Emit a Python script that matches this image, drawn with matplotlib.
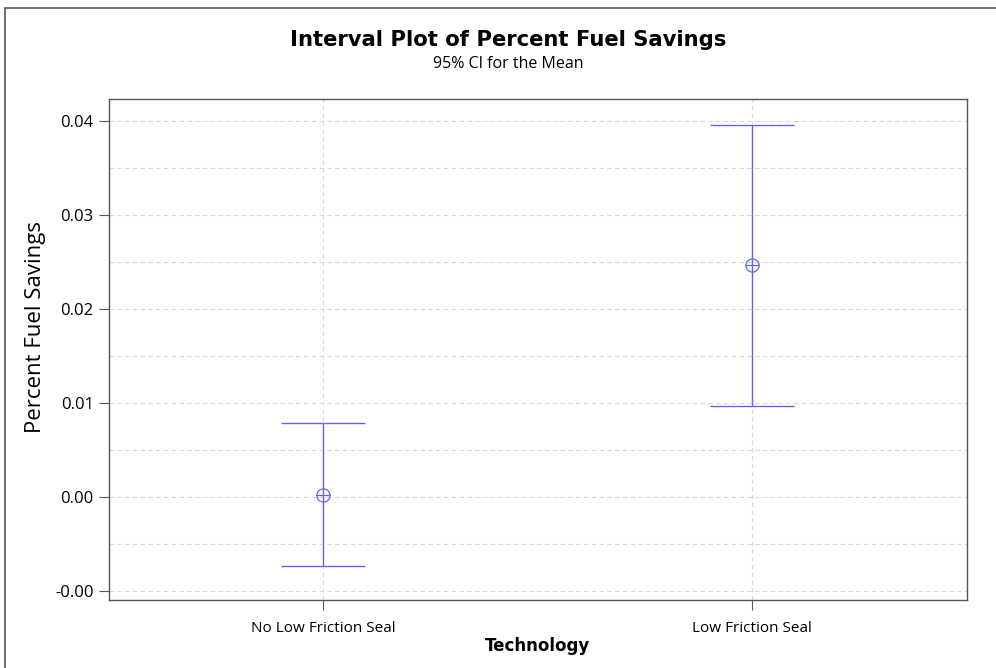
import matplotlib
matplotlib.use("Agg")
import matplotlib.pyplot as plt
from matplotlib.patches import Rectangle
import numpy as np

categories = ["No Low Friction Seal", "Low Friction Seal"]
means = [0.00018, 0.02465]
lower = [-0.00734, 0.00968]
upper = [0.00781, 0.03954]
ytick_vals = [-0.01, 0.0, 0.01, 0.02, 0.03, 0.04]
ytick_labels = ["-0.00", "0.00", "0.01", "0.02", "0.03", "0.04"]

blue = "#6464f0"
grid_c = "#d8d8d8"

fig = plt.figure(figsize=(9.96, 6.68), dpi=100)
fig.patches.append(Rectangle((5/996, -0.1), 1.2, 1 - 8/668 + 0.1, transform=fig.transFigure,
                             fill=False, edgecolor="#555555", linewidth=1.2))
W, H = 996, 668
ax = fig.add_axes([109/W, 1 - 600/H, (966.5-109)/W, (600-98.7)/H])

x = np.arange(len(categories))
m = np.array(means); lo = np.array(lower); hi = np.array(upper)
ax.errorbar(x, m, yerr=[m - lo, hi - m], fmt="none", ecolor=blue, elinewidth=1.0,
            capsize=30.5, capthick=1.0, zorder=3)
ax.plot(x, m, linestyle="none", marker="o", markersize=9.5, markerfacecolor="none",
        markeredgecolor=blue, markeredgewidth=0.9, zorder=4)
ax.plot(x, m, linestyle="none", marker="_", markersize=9.5, markeredgecolor=blue,
        markeredgewidth=0.9, zorder=4)

ax.set_xlim(-0.5, 1.5)
ax.set_ylim(-0.01099, 0.04234)
ax.set_yticks(ytick_vals)
ax.set_yticklabels(ytick_labels)
ax.set_yticks(np.arange(-0.005, 0.041, 0.01), minor=True)
ax.set_xticks(x)
ax.set_xticklabels(categories)
ax.tick_params(axis="y", which="minor", length=0)
ax.tick_params(axis="both", which="major", direction="out", length=7, color="#555555",
               width=0.8)
ax.tick_params(axis="y", labelsize=12, pad=4)
ax.tick_params(axis="x", labelsize=11, pad=8)
for lab in ax.get_yticklabels() + ax.get_xticklabels():
    lab.set_fontfamily("Open Sans")
ax.grid(True, which="both", axis="y", linestyle=(0, (4, 3)), color=grid_c, linewidth=0.8)
ax.grid(True, which="major", axis="x", linestyle=(0, (4, 3)), color=grid_c, linewidth=0.8)
ax.set_axisbelow(True)
for s in ax.spines.values():
    s.set_color("#555555")
    s.set_linewidth(1.0)

ax.set_ylabel("Percent Fuel Savings", fontsize=16, family="Open Sans")
ax.yaxis.set_label_coords(-0.0735, 0.545)
ax.set_xlabel("Technology", fontsize=12, fontweight="bold", family="DejaVu Sans", labelpad=1)

fig.text(508/W, 1 - 40/H, "Interval Plot of Percent Fuel Savings", ha="center", va="center",
         fontsize=15.2, fontweight="bold", family="DejaVu Sans")
fig.text(508/W, 1 - 64/H, "95% CI for the Mean", ha="center", va="center",
         fontsize=11.5, family="Open Sans")

fig.savefig("out.png", dpi=100)
